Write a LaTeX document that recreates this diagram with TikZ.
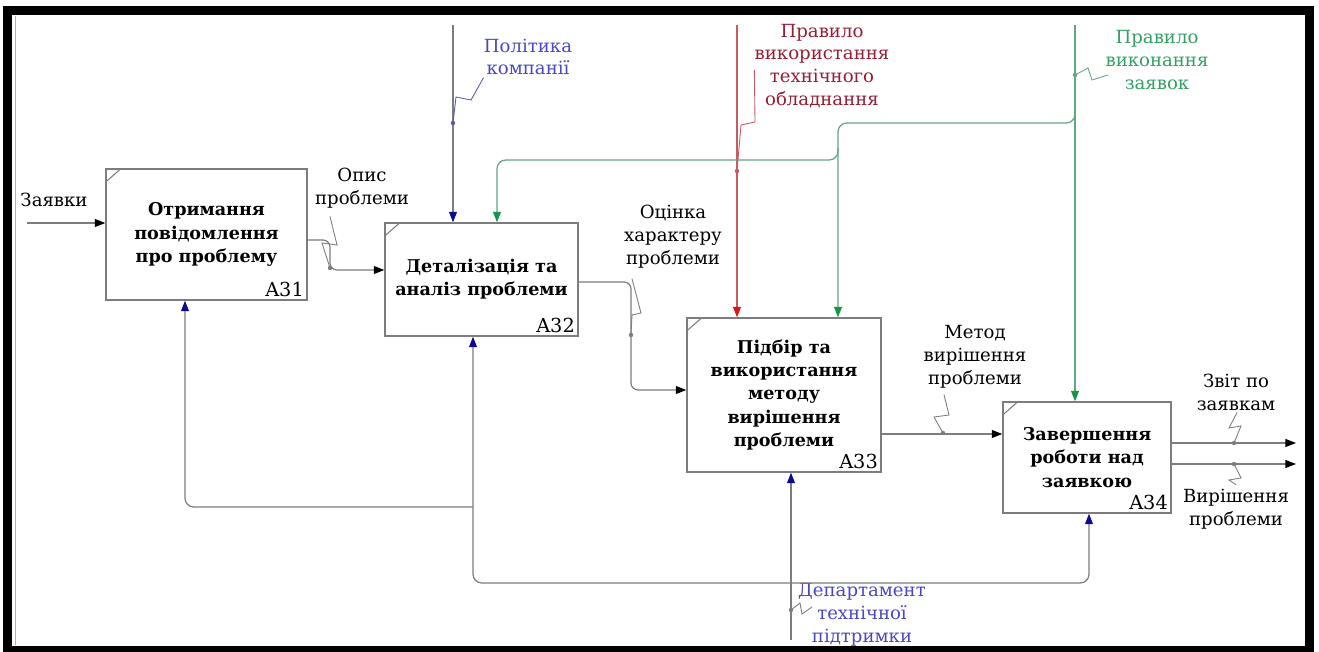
\documentclass[tikz,border=0pt]{standalone}
\usepackage{fontspec}
\setmainfont{DejaVu Serif}
\usetikzlibrary{arrows.meta}

\definecolor{linegray}{RGB}{125,125,125}
\definecolor{txtblue}{RGB}{72,72,196}
\definecolor{txtred}{RGB}{150,30,50}
\definecolor{txtgreen}{RGB}{50,160,100}
\definecolor{headblue}{RGB}{10,10,150}
\definecolor{headred}{RGB}{225,20,20}
\definecolor{headgreen}{RGB}{20,150,70}
\definecolor{linered}{RGB}{200,90,100}
\definecolor{linegreen}{RGB}{100,165,130}

\begin{document}
\begin{tikzpicture}[x=0.02cm, y=-0.02cm,
  box/.style={draw=linegray, line width=0.8pt, align=center, inner sep=0pt,
    font=\fontsize{10}{13.2}\selectfont\bfseries},
  boxnum/.style={anchor=south east, inner sep=2pt, font=\fontsize{11}{13}\selectfont},
  lbl/.style={align=center, inner sep=0pt, font=\fontsize{10.3}{13}\selectfont},
  flow/.style={draw=linegray, line width=0.7pt, rounded corners=4pt,
    -{Triangle[length=6pt,width=4.5pt,color=black]}},
  ctl/.style={line width=0.7pt, rounded corners=5pt},
  squig/.style={line width=0.5pt},
  dot/.style={circle, fill, inner sep=0pt, minimum size=2.5pt}
]
\useasboundingbox (0,0) rectangle (1319,652);

% frame
\draw[line width=0.18cm] (7.5,11) rectangle (1309,650);
\draw[linegray!60, line width=0.5pt] (15,16) -- (15,645);

% function boxes
\node[box, minimum width=4.02cm, minimum height=2.62cm] (A31) at (206.5,234.5)
  {Отримання\\повідомлення\\про проблему};
\node[box, minimum width=3.86cm, minimum height=2.26cm] (A32) at (481.5,279.5)
  {Деталізація та\\аналіз проблеми};
\node[box, minimum width=3.88cm, minimum height=3.08cm] (A33) at (784,395)
  {Підбір та\\використання\\методу\\вирішення\\проблеми};
\node[box, minimum width=3.36cm, minimum height=2.22cm] (A34) at (1087,457.5)
  {Завершення\\роботи над\\заявкою};
\foreach \b in {A31,A32,A33,A34} {
  \node[boxnum] at (\b.south east) {\b};
  \draw[linegray, line width=0.6pt] (\b.north west) ++(0,14) -- ++(16,-14);
}

% labels
\node[lbl] (zayavky) at (54,200) {Заявки};
\node[lbl] (opys) at (362,188) {Опис\\проблеми};
\node[lbl, text=txtblue] (polityka) at (528,57) {Політика\\компанії};
\node[lbl, text=txtred] (pravtech) at (822,66) {Правило\\використання\\технічного\\обладнання};
\node[lbl, text=txtgreen] (pravzay) at (1157,60) {Правило\\виконання\\заявок};
\node[lbl] (otsinka) at (673,237) {Оцінка\\характеру\\проблеми};
\node[lbl] (metod) at (975,357) {Метод\\вирішення\\проблеми};
\node[lbl] (zvit) at (1236,392) {Звіт по\\заявкам};
\node[lbl] (vyrish) at (1236,509) {Вирішення\\проблеми};
\node[lbl, text=txtblue] (depart) at (862,615) {Департамент\\технічної\\підтримки};

% free ends
\coordinate (inA) at (27,223);
\coordinate (outZ) at (1296,443);
\coordinate (outV) at (1296,464);
\coordinate (polTop) at (453,25);
\coordinate (techTop) at (737,25);
\coordinate (zayTop) at (1075,25);
\coordinate (g33) at (838,123);
\coordinate (g32) at (497,160);
\coordinate (depBot) at (791,640);
\coordinate (m32) at (473,583);
\coordinate (m31) at (185,507);

% inputs and outputs
\draw[flow] (inA) -- (A31.west |- inA);
\draw[flow] (A31.east |- 0,240) -- (330,240) -- (330,270) -- (A32.west |- 0,270);
\draw[flow] (A32.east |- 0,282) -- (631,282) -- (631,390) -- (A33.west |- 0,390);
\draw[flow] (A33.east |- 0,434) -- (A34.west |- 0,434);
\draw[flow] (A34.east |- outZ) -- (outZ);
\draw[flow] (A34.east |- outV) -- (outV);

% controls
\draw[ctl, draw=linegray, -{Triangle[length=6pt,width=4.5pt,color=headblue]}]
  (polTop) -- (polTop |- A32.north);
\draw[ctl, draw=linered, -{Triangle[length=6pt,width=4.5pt,color=headred]}]
  (techTop) -- (techTop |- A33.north);
\draw[ctl, draw=linegreen, -{Triangle[length=6pt,width=4.5pt,color=headgreen]}]
  (zayTop) -- (zayTop |- A34.north);
\draw[ctl, draw=linegreen, -{Triangle[length=6pt,width=4.5pt,color=headgreen]}]
  (zayTop |- 0,110) -- (zayTop |- g33) -- (g33) -- (g33 |- A33.north);
\draw[ctl, draw=linegreen, -{Triangle[length=6pt,width=4.5pt,color=headgreen]}]
  (g33 |- 0,148) -- (g33 |- g32) -- (g32) -- (g32 |- A32.north);

% mechanisms
\draw[ctl, draw=linegray, -{Triangle[length=6pt,width=4.5pt,color=headblue]}]
  (depBot) -- (depBot |- A33.south);
\draw[ctl, draw=linegray, -{Triangle[length=6pt,width=4.5pt,color=headblue]}]
  (depBot |- m32) -- (1089,583) -- (A34.south -| 1089,0);
\draw[ctl, draw=linegray, -{Triangle[length=6pt,width=4.5pt,color=headblue]}]
  (depBot |- m32) -- (m32) -- (m32 |- A32.south);
\draw[ctl, draw=linegray, -{Triangle[length=6pt,width=4.5pt,color=headblue]}]
  (m32 |- m31) -- (m31) -- (m31 |- A31.south);

% squiggles
\draw[squig, linegray] (opys.south) ++(-32,8) -- (337,245) -- (322,243) -- (330,268) node[dot]{};
\draw[squig, linegray] (otsinka.south) ++(-41,10) -- (641,313) -- (632,315) -- (631,335) node[dot]{};
\draw[squig, linegray] (metod.south) ++(-31,6) -- (949,415) -- (934,417) -- (943,433) node[dot]{};
\draw[squig, linegray] (zvit.south) ++(1,2) -- (1229,428) -- (1241,426) -- (1234,443) node[dot]{};
\draw[squig, linegray] (vyrish.north) ++(0,-4) -- (1229,480) -- (1241,478) -- (1234,464) node[dot]{};
\draw[squig, txtblue!70!gray] (polityka.south west) ++(0,2) -- (471,100) -- (456,97) -- (453,123) node[dot]{};
\draw[squig, linered] (pravtech.west) ++(0,4) -- (755,122) -- (741,125) -- (737,171) node[dot]{};
\draw[squig, linegreen] (1108,75) -- (1092,80) -- (1088,68) -- (1075,75) node[dot]{};
\draw[squig, linegray] (812,607) -- (802,614) -- (800,603) -- (791,610) node[dot]{};
\end{tikzpicture}
\end{document}
